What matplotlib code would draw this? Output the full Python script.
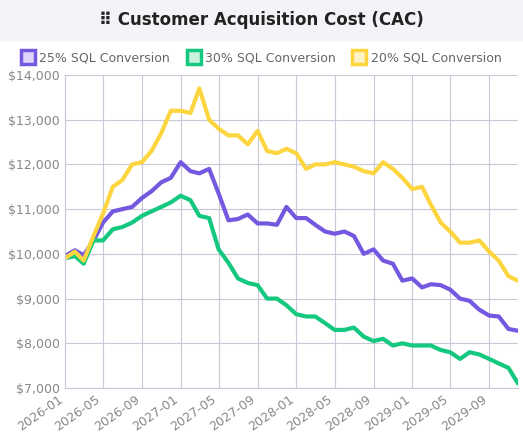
import matplotlib
matplotlib.use("Agg")
import matplotlib.pyplot as plt
import matplotlib.dates as mdates
from matplotlib.lines import Line2D
import pandas as pd

months = pd.date_range("2026-01-01", periods=48, freq="MS")
sql25 = [9950,10080,9970,10300,10700,10950,11000,11050,11250,11400,11600,11700,12050,11850,11800,11900,
         11350,10750,10780,10880,10680,10680,10650,11050,10800,10800,10650,10500,10450,10500,10400,10000,
         10100,9850,9780,9400,9450,9250,9320,9300,9200,9000,8950,8750,8620,8600,8320,8280]
sql30 = [9900,9950,9780,10300,10300,10550,10600,10700,10850,10950,11050,11150,11300,11200,10850,10800,
         10100,9800,9450,9350,9300,9000,9000,8850,8650,8600,8600,8450,8300,8300,8350,8150,
         8050,8100,7950,8000,7950,7950,7950,7850,7800,7650,7800,7750,7650,7550,7450,7100]
sql20 = [9900,10050,9850,10400,10900,11500,11650,12000,12050,12300,12700,13200,13200,13150,13700,13000,
         12800,12650,12650,12450,12750,12300,12250,12350,12250,11900,12000,12000,12050,12000,11950,11850,
         11800,12050,11900,11700,11450,11500,11100,10700,10500,10250,10250,10300,10050,9850,9500,9400]
series = [("25% SQL Conversion", sql25, "#7458e0", "#ddd6fa"),
          ("30% SQL Conversion", sql30, "#14c97f", "#c9f2df"),
          ("20% SQL Conversion", sql20, "#fcd53f", "#fef3c7")]

fig = plt.figure(figsize=(5.23, 4.34), dpi=100)
fig.patch.set_facecolor("white")
fig.add_artist(plt.Rectangle((0, 1 - 40/434), 1, 40/434, transform=fig.transFigure, color="#f2f4f7", zorder=0))
fig.text(0.5, 1 - 20/434, "⠿ Customer Acquisition Cost (CAC)", ha="center", va="center",
         fontsize=12, fontweight="bold", color="#222")
ax = fig.add_axes([65/523, 46/434, (518-65)/523, (388-75)/434])
handles = []
for name, vals, c, fc in series:
    ax.plot(months, vals, color=c, lw=3, solid_capstyle="round", label=name)
    handles.append(Line2D([], [], ls="none", marker="s", markersize=10, markeredgewidth=2.5,
                          markeredgecolor=c, markerfacecolor=fc))
ax.set_ylim(7000, 14000)
ax.set_xlim(months[0], months[-1])
ax.set_yticks(range(7000, 14001, 1000))
ax.yaxis.set_major_formatter(matplotlib.ticker.FuncFormatter(lambda v, p: f"${v:,.0f}"))
ax.set_xticks(months[::4])
ax.xaxis.set_major_formatter(mdates.DateFormatter("%Y-%m"))
plt.setp(ax.get_xticklabels(), rotation=35, ha="right")
ax.tick_params(colors="#888", labelsize=9, length=0)
ax.grid(True, color="#c8c8d8", lw=0.8)
for s in ax.spines.values():
    s.set_visible(False)
ax.spines["left"].set_visible(True); ax.spines["left"].set_color("#c8c8d8")
ax.spines["bottom"].set_visible(True); ax.spines["bottom"].set_color("#c8c8d8")
fig.legend(handles, [s[0] for s in series], loc="center", bbox_to_anchor=(0.5, 1 - 58/434), ncol=3,
           frameon=False, fontsize=9, handlelength=1.0, columnspacing=1.4,
           handletextpad=0.4, labelcolor="#666")
fig.savefig("out.png", dpi=100)
